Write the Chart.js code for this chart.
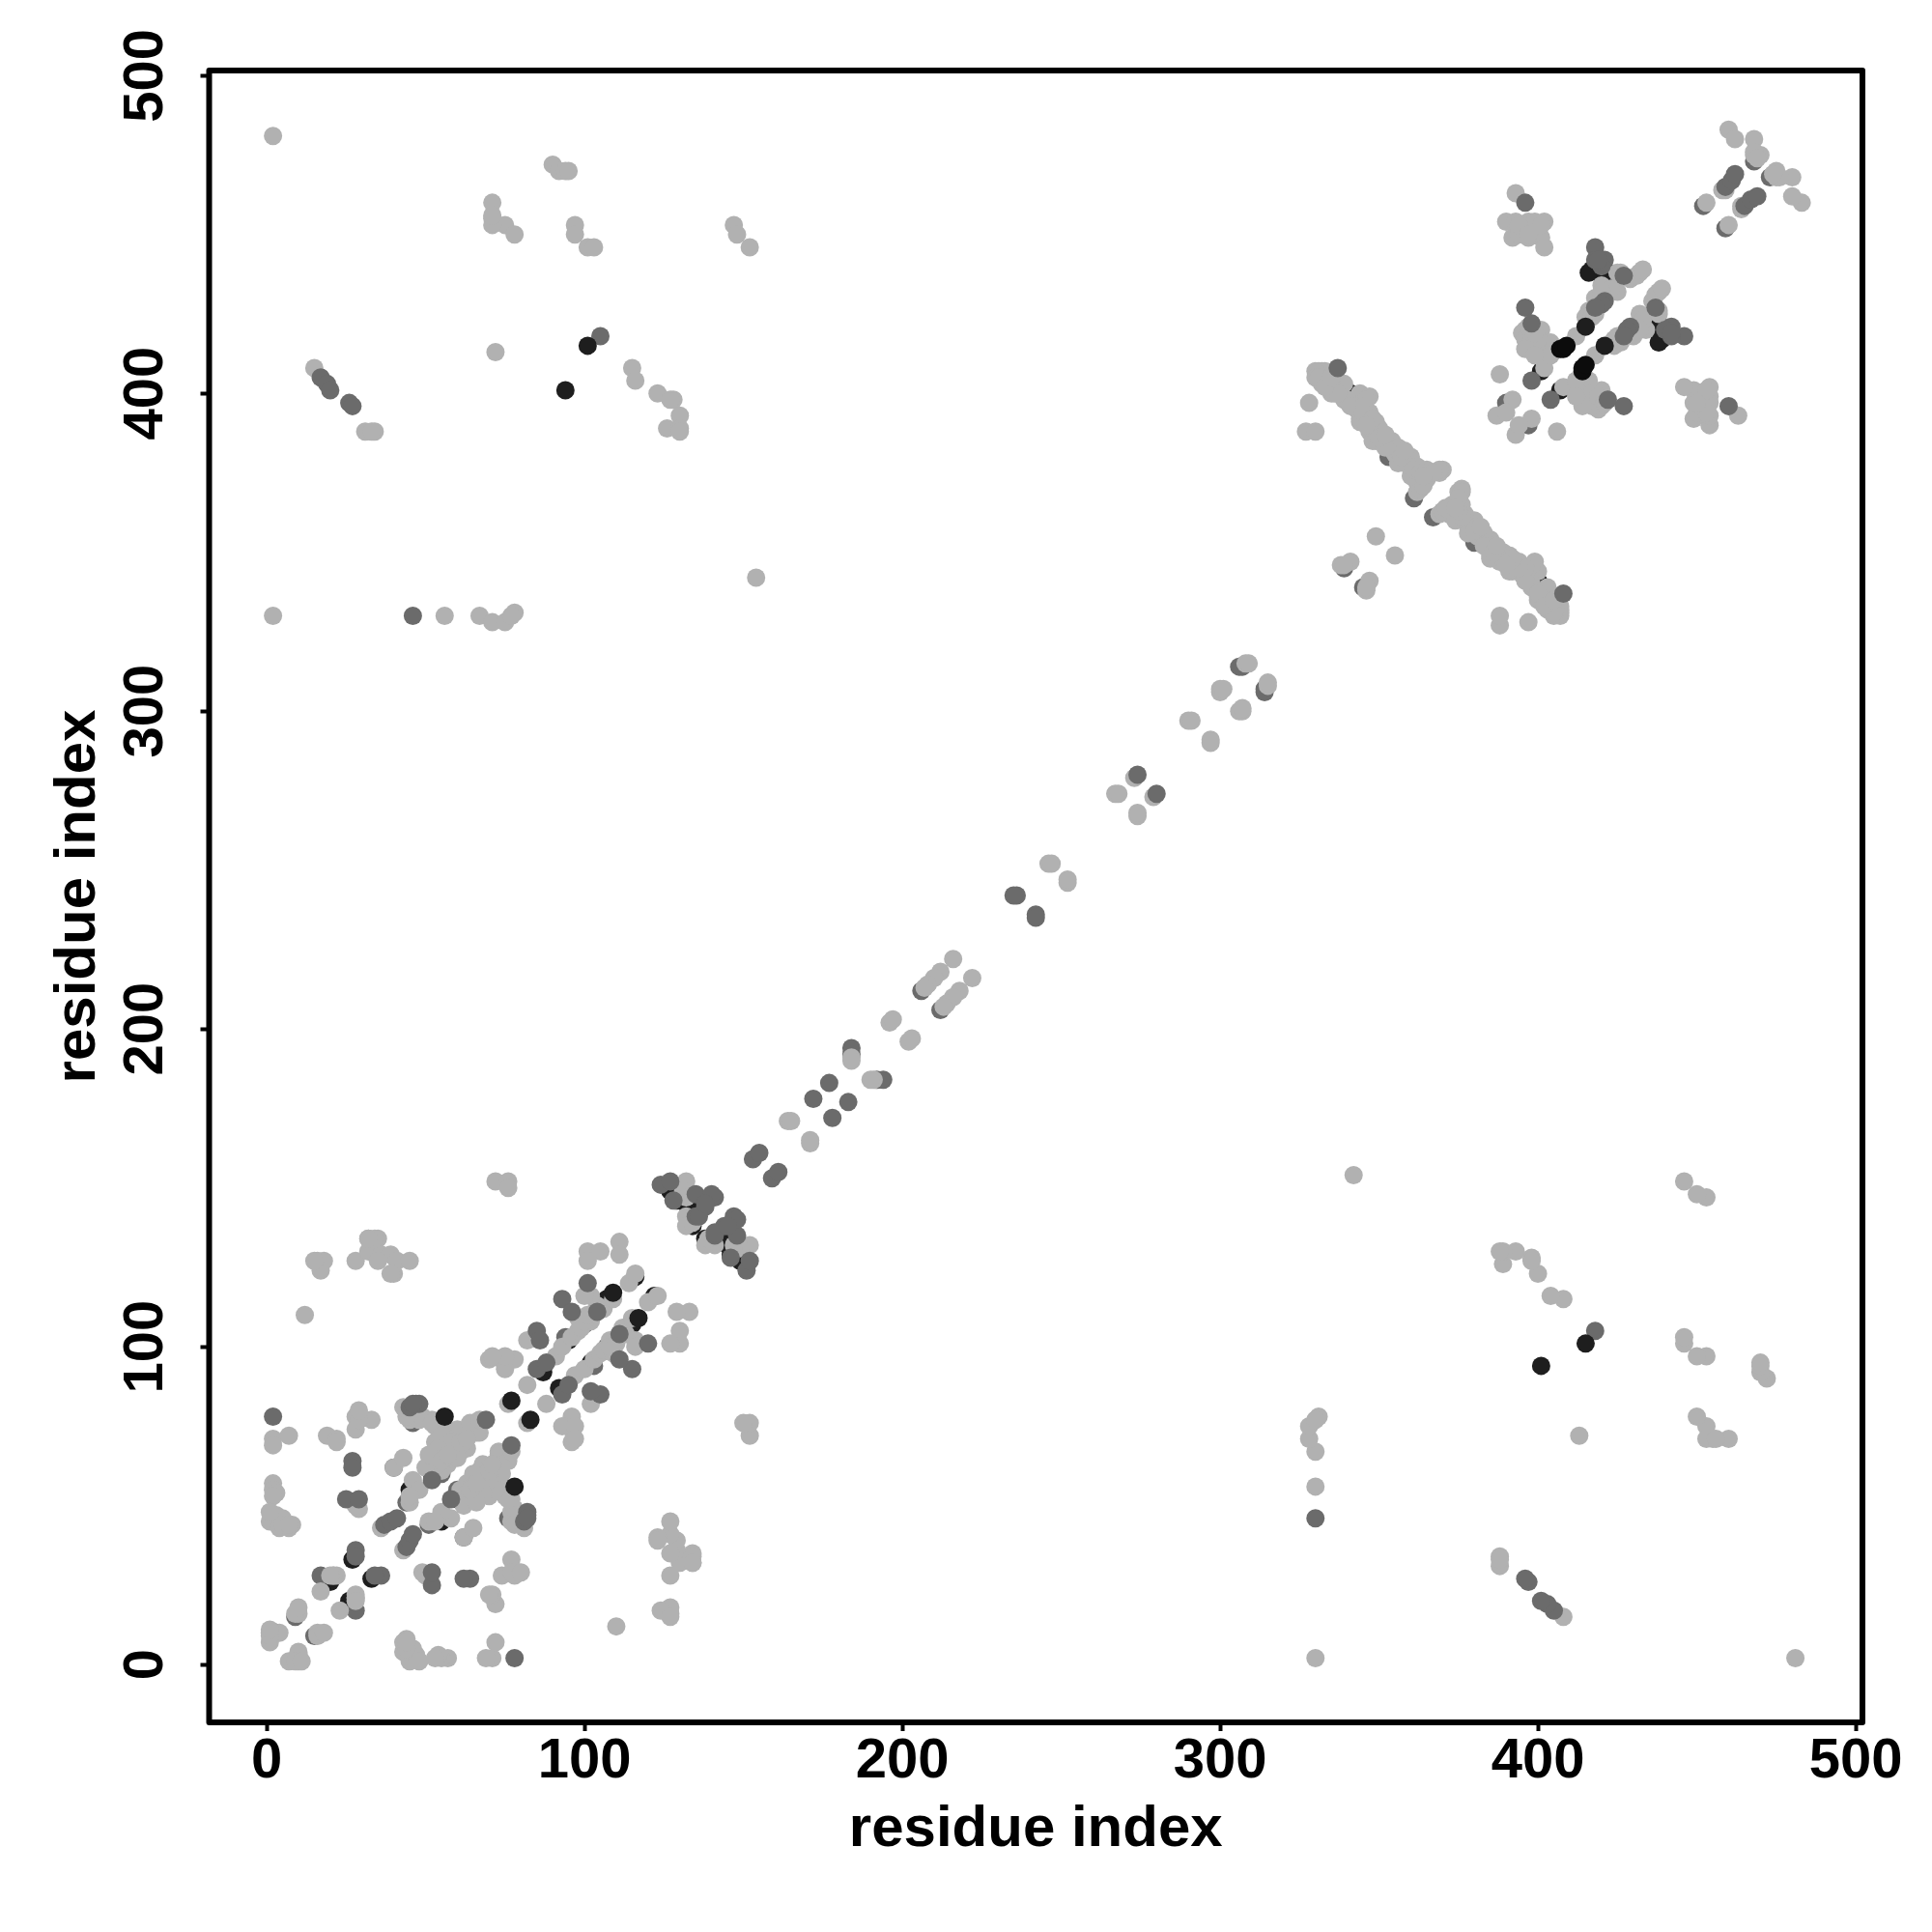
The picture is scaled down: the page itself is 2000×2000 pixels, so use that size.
<!DOCTYPE html>
<html>
<head>
<meta charset="utf-8">
<title>residue contact map</title>
<script src="https://cdn.jsdelivr.net/npm/chart.js@4"></script>
<style>
  html, body { margin: 0; padding: 0; background: #fff; }
  canvas { display: block; }
</style>
</head>
<body>
<canvas id="contact-map" width="2000" height="2000"></canvas>
<script>
// Contact pairs [i, j], the map is symmetric so each pair is drawn on both sides
const lightPairs = [
  [2,71],[2,69],[7,72],[19,72],[22,71],[22,70],[29,79],[28,78],[33,77],[28,74],[29,77],[29,80],[40,62],[43,65],
  [2,57],[2,55],[3,54],[2,53],[29,49],[28,50],[1,45],[3,47],[5,46],[8,44],[4,43],[7,43],[5,44],[1,48],[7,44],
  [36,43],[21,28],[22,28],[17,23],[28,21],[28,20],[10,16],[9,16],[10,18],[1,10],[1,7],[4,10],[1,9],[1,11],
  [44,80],[45,77],[48,77],[52,77],[53,75],[58,73],[61,73],[65,76],[67,73],[66,75],[53,66],[56,69],[60,69],
  [57,63],[55,61],[61,67],[58,66],[60,72],[56,66],[54,63],[59,70],[63,68],[46,58],[48,55],[45,51],[45,53],
  [49,78],[44,78],[43,81],[52,76],[60,74],[66,73],[64,76],[67,77],[60,65],[57,71],[62,70],
  [53,70],[55,72],[58,70],[61,70],[52,63],[50,62],[54,68],[51,66],[63,71],[55,64],[57,66],
  [76,82],[82,88],[70,96],[74,96],[78,96],[75,93],[82,102],[91,97],[93,100],[96,103],[98,105],[99,106],
  [98,109],[102,108],[100,108],[101,110],[104,113],[106,112],[102,116],[100,116],[109,115],[114,120],[116,123],
  [111,133],[111,129],[101,130],[105,130],[101,127],[75,97],[71,97],
  [132,152],[131,149],[132,147],[132,141],[132,138],[134,139],[140,147],[72,152],[76,152],[76,150],
  [164,171],[165,171],[196,202],[197,203],[216,222],[212,218],[210,216],[208,214],[207,213],
  [246,252],[247,252],[184,191],[184,190],[267,274],[268,274],[273,279],[290,297],[291,297],
  [300,307],[300,306],[301,307],[308,315],[309,315],
  [2,481],[2,330],[56,330],[67,330],[71,328],[75,328],[78,331],[77,330],[154,342],[72,413],
  [90,472],[92,470],[94,470],[95,470],[71,460],[71,455],[75,453],[78,450],[71,453],[71,456],
  [97,453],[97,450],[101,446],[103,446],[147,453],[148,450],[152,446],
  [15,408],[31,388],[34,388],[33,388],[115,408],[116,404],[123,400],[128,398],[127,398],[130,393],[126,389],[130,389],[130,388],
  [16,127],[18,127],[17,124],[28,127],[32,134],[35,134],[32,130],[36,129],[39,129],[41,127],[40,123],[45,127],
  [39,123],[35,127],[34,134],[32,134],[15,127],[12,110],
  [331,407],[333,407],[333,404],[336,400],[339,403],[339,398],[344,400],[347,399],[343,395],[344,392],[347,394],
  [349,391],[347,388],[349,385],[354,385],[354,383],[355,381],[360,380],[358,378],[362,377],[365,376],[370,376],
  [362,372],[365,373],[362,369],[363,370],[369,375],[369,376],[356,383],[348,385],[348,389],[344,391],[346,398],
  [340,398],[332,407],[330,407],[332,403],[335,400],[335,403],[337,400],[341,396],[345,396],[350,389],[351,386],
  [352,383],[356,378],[360,374],[345,394],[330,405],[331,405],[333,402],[335,405],
  [348,392],[350,386],[352,387],[357,380],[361,376],[363,375],[367,375],[358,382],[364,371],[364,374],[346,390],
  [328,397],[327,388],[330,388],[349,355],[341,347],[338,346],[339,346],
  [388,406],[396,420],[401,420],[402,416],[399,415],[404,416],[402,412],[395,419],[402,408],[396,417],[398,418],
  [400,417],[404,412],[412,418],[416,426],[418,425],[420,434],[425,432],[426,438],[429,436],[432,438],[418,430],
  [420,430],[423,433],[415,424],[392,398],[387,393],[390,394],[417,424],[420,432],[431,437],[433,439],[425,438],
  [396,414],[399,412],[399,419],[397,421],
  [393,463],[390,454],[393,454],[397,454],[402,454],[392,449],[397,449],[401,449],[402,446],[399,454],[394,450],
  [394,453],[401,453],[397,450],
  [460,483],[462,480],[468,480],[468,475],[470,475],[468,476],[469,474],[458,464],[459,464],[453,460]
];
const midPairs = [
  [40,62],[17,28],[9,15],[3,10],[44,51],[52,61],[55,60],[46,76],[55,74],[94,103],[100,107],
  [353,380],[361,367],[338,402],[468,473],[452,459],[339,345],[390,397],[307,314],[306,314],
  [184,192],[184,194],[206,212]
];
const midTopPairs = [
  [2,78],[27,64],[27,62],[25,52],[29,52],[37,44],[39,45],[41,46],[28,36],[28,34],[52,58],[47,82],[48,82],[45,81],[46,82],[69,77],
  [85,93],[88,95],[85,105],[86,102],[93,115],[96,111],[104,111],[101,120],
  [124,151],[127,152],[128,146],[135,141],[135,148],[141,147],[138,144],[140,148],[136,141],[138,145],
  [153,159],[155,161],[172,178],[177,183],[236,242],[235,242],[274,280],
  [398,404],[396,427],[398,422],[421,429],[427,437],[418,446],[418,442],[421,442],[420,428],[420,440],[419,442],[418,427],
  [396,460],[337,408],[46,330],[105,418],[17,405],[19,403],[20,401],[26,397],[27,396],[459,465],[461,467],[462,469]
];
const darkPairs = [
  [27,33],[20,26],[45,55],[87,92],[95,102],[116,122],[107,115],[108,115],[127,149],[129,146],[133,139],[133,145],
  [134,138],[132,145],[401,407],[417,439],[419,438],[422,438],[416,438],[341,400],[52,60]
];
const darkTopPairs = [[56,78],[77,83],[109,117],[94,401],[101,415],[415,421]];
const blackPairs = [[407,414],[408,414],[409,415]];

const axisTicks = [0, 100, 200, 300, 400, 500];
const axisLabel = 'residue index';

const tickFont = { family: '"Liberation Sans", Arial, sans-serif', weight: 'bold', size: 58 };
const titleFont = { family: '"Liberation Sans", Arial, sans-serif', weight: 'bold', size: 60 };

function toPoints(pairs) {
  return pairs.flatMap(([i, j]) => [{ x: i, y: j }, { x: j, y: i }]);
}

function contactSet(pairs, color, order) {
  return {
    data: toPoints(pairs),
    backgroundColor: color,
    borderWidth: 0,
    pointRadius: 9.5,
    pointHoverRadius: 9.5,
    order: order,
  };
}

// Box round the plot, the way R draws it
const boxPlugin = {
  id: 'box',
  afterDraw(chart) {
    const { ctx, chartArea } = chart;
    ctx.save();
    ctx.strokeStyle = '#000';
    ctx.lineWidth = 6;
    ctx.lineJoin = 'round';
    ctx.strokeRect(chartArea.left, chartArea.top, chartArea.right - chartArea.left, chartArea.bottom - chartArea.top);
    ctx.restore();
  },
};

const tickSettings = {
  stepSize: 100,
  includeBounds: false,
  color: '#000',
  font: tickFont,
  callback: (value) => (axisTicks.includes(value) ? String(value) : ''),
};

const gridSettings = {
  drawOnChartArea: false,
  drawTicks: true,
  tickLength: 9,
  tickWidth: 4,
  tickColor: '#000',
};

new Chart(document.getElementById('contact-map'), {
  type: 'scatter',
  data: {
    datasets: [
      contactSet(blackPairs, '#0c0c0c', 1),
      contactSet(darkTopPairs, '#1e1e1e', 2),
      contactSet(midTopPairs, '#6b6b6b', 3),
      contactSet(lightPairs, '#b1b1b1', 4),
      contactSet(midPairs, '#6b6b6b', 5),
      contactSet(darkPairs, '#1e1e1e', 6),
    ],
  },
  options: {
    responsive: false,
    animation: false,
    devicePixelRatio: 1,
    layout: { padding: { top: 73, right: 72, left: 0, bottom: 0 } },
    plugins: { legend: { display: false }, tooltip: { enabled: false } },
    scales: {
      x: {
        type: 'linear',
        min: -18.1,
        max: 502.1,
        border: { display: false },
        grid: gridSettings,
        ticks: { ...tickSettings, maxRotation: 0, minRotation: 0, padding: -3 },
        title: { display: true, text: axisLabel, color: '#000', font: titleFont, padding: { top: 0, bottom: 70 } },
        afterFit(scale) { scale.height = 217; },
      },
      y: {
        type: 'linear',
        min: -18.2,
        max: 501.6,
        border: { display: false },
        grid: gridSettings,
        ticks: { ...tickSettings, maxRotation: 90, minRotation: 90, crossAlign: 'center', padding: 7 },
        title: { display: true, text: axisLabel, color: '#000', font: titleFont, padding: { top: 45, bottom: 0 } },
        afterFit(scale) { scale.width = 216.5; },
      },
    },
  },
  plugins: [boxPlugin],
});
</script>
</body>
</html>
